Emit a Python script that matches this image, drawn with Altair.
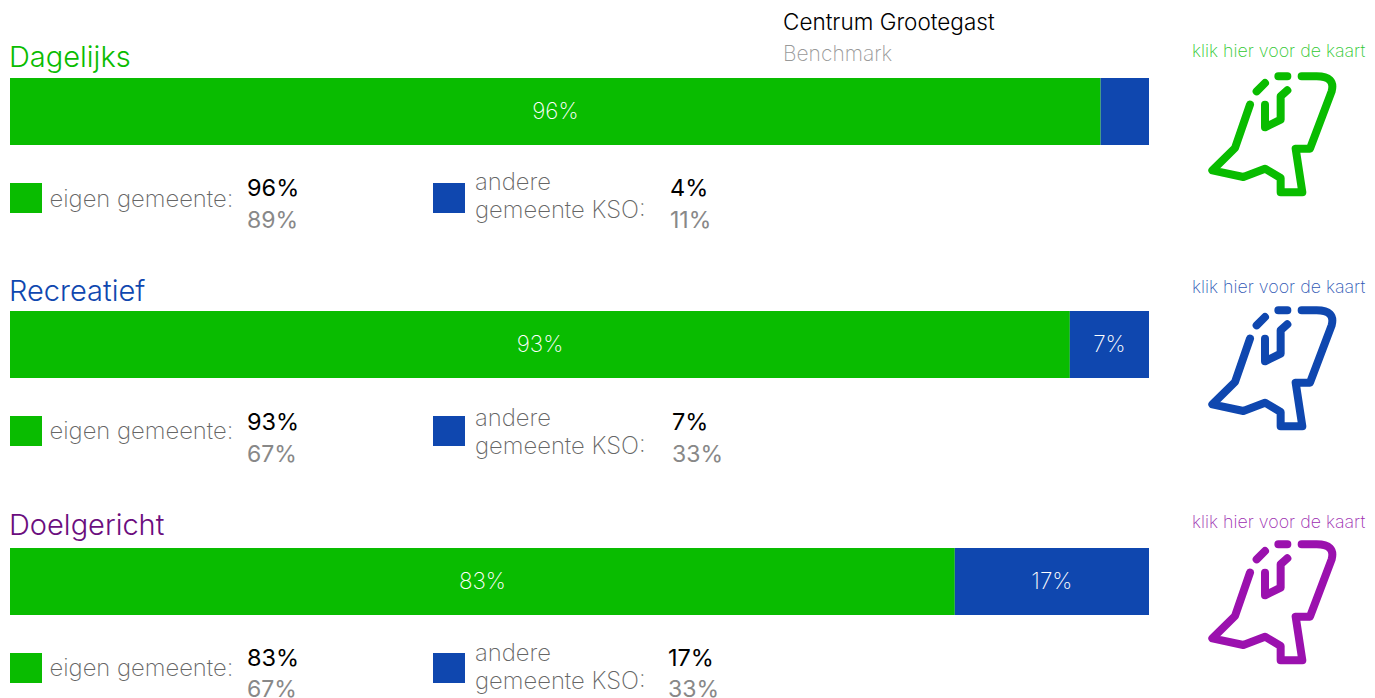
import altair as alt
import pandas as pd

groups = ["Dagelijks", "Recreatief", "Doelgericht"]
own = [95.75, 93.05, 82.95]
other = [4.25, 6.95, 17.05]
own_labels = ["96%", "93%", "83%"]
other_labels = ["", "7%", "17%"]
own_main = ["96%", "93%", "83%"]
own_bench = ["89%", "67%", "67%"]
other_main = ["4%", "7%", "17%"]
other_bench = ["11%", "33%", "33%"]

GREEN = "#09BC00"
BLUE = "#0F47AF"
title_colors = ["#09BC00", "#0F47AF", "#6B0D7E"]
icon_colors = ["#09BC00", "#0F47AF", "#9B11AE"]
link_colors = ["#30C830", "#3058B5", "#9C2CB0"]
FONT = "Inter"
GREY = "#666666"

OX, OY = 8, 8
bar_tops = [78, 311, 548]
title_base = [67, 301, 535]
link_base = [57, 293, 528]
icon_cy = [133, 367, 601]
swatch_tops = [183, 416, 653]
eigen_base = [207, 439, 676]
andere_base = [190, 426, 661]
kso_base = [218, 454, 689]
main_base = [196, 430, 666]
bench_base = [228, 462, 697]
other_x = [670, 672, 668]


def txt(s, x, y, color, size, weight=200, align="left", font=FONT):
    return alt.Chart(pd.DataFrame({"t": [s]})).mark_text(
        font=font, fontSize=size, fontWeight=weight, color=color, align=align,
        baseline="alphabetic",
    ).encode(x=alt.value(x - OX), y=alt.value(y - OY), text="t:N")


def swatch(x, y, color):
    return alt.Chart(pd.DataFrame({"a": [0]})).mark_rect(color=color).encode(
        x=alt.value(x - OX), x2=alt.value(x + 32 - OX),
        y=alt.value(y - OY), y2=alt.value(y + 30 - OY),
    )


def P(points):
    return "M" + " L".join(f"{(px - 300) / 150:.3f} {(py - 400) / 150:.3f}" for px, py in points)


ICON = " ".join([
    P([(240, 315), (195, 445), (127, 512), (220, 532), (285, 507), (332, 535), (332, 578),
       (397, 578), (377, 447), (420, 447), (485, 275)]) +
    " Q{:.3f} {:.3f} {:.3f} {:.3f} L{:.3f} {:.3f}".format(
        (497 - 300) / 150, (230 - 400) / 150, (440 - 300) / 150, (230 - 400) / 150,
        (395 - 300) / 150, (230 - 400) / 150),
    P([(325, 230), (352, 230)]),
    P([(260, 275), (285, 250)]),
    P([(285, 315), (285, 383), (332, 360), (332, 290), (352, 272)]),
])


def icon(cy, color):
    return alt.Chart(pd.DataFrame({"a": [0]})).mark_point(
        shape=ICON, size=10000, filled=False, stroke=color, strokeWidth=8,
        strokeCap="round", strokeJoin="round", opacity=1,
    ).encode(x=alt.value(1270 - OX), y=alt.value(cy - OY))


x_scale = alt.Scale(domain=[0, 100], range=[10 - OX, 1149 - OX])
color_scale = alt.Scale(domain=["eigen", "andere"], range=[GREEN, BLUE])

layers = []
for i, top in enumerate(bar_tops):
    a, b = own[i], other[i]
    df = pd.DataFrame({"start": [0, a], "end": [a, a + b], "part": ["eigen", "andere"]})
    layers.append(alt.Chart(df).mark_bar().encode(
        x=alt.X("start:Q", scale=x_scale, axis=None),
        x2="end:Q",
        y=alt.value(top - OY),
        y2=alt.value(top + 67 - OY),
        color=alt.Color("part:N", scale=color_scale, legend=None),
    ))
    rows = [{"m": a / 2, "t": own_labels[i]}]
    if other_labels[i]:
        rows.append({"m": a + b / 2, "t": other_labels[i]})
    layers.append(alt.Chart(pd.DataFrame(rows)).mark_text(
        font=FONT, fontSize=22.5, fontWeight=200, color="white", baseline="alphabetic",
    ).encode(
        x=alt.X("m:Q", scale=x_scale, axis=None),
        y=alt.value(top + 41 - OY),
        text="t:N",
    ))

layers.append(txt("Centrum Grootegast", 783, 30, "#000000", 22.5, 300))
layers.append(txt("Benchmark", 783, 61, "#999999", 21, 200))

for i, top in enumerate(bar_tops):
    layers.append(txt(groups[i], 9, title_base[i], title_colors[i], 29, 300))
    layers.append(txt("klik hier voor de kaart", 1192, link_base[i], link_colors[i], 17.8, 200))
    layers.append(icon(icon_cy[i], icon_colors[i]))
    layers.append(swatch(10, swatch_tops[i], GREEN))
    layers.append(swatch(433, swatch_tops[i], BLUE))
    layers.append(txt("eigen gemeente:", 49.5, eigen_base[i], GREY, 23.8))
    layers.append(txt("andere", 475, andere_base[i], GREY, 23.8))
    layers.append(txt("gemeente KSO:", 475, kso_base[i], GREY, 23.8))
    layers.append(txt(own_main[i], 247, main_base[i], "#000000", 23.5, 400))
    layers.append(txt(own_bench[i], 247, bench_base[i], "#888888", 23, 400))
    layers.append(txt(other_main[i], other_x[i], main_base[i], "#000000", 23.5, 400))
    layers.append(txt(other_bench[i], other_x[i], bench_base[i], "#888888", 23, 400))

chart = alt.layer(*layers).properties(
    width=1359, height=690, padding=0, autosize=alt.AutoSizeParams(type="none"),
    background="white",
).configure_view(stroke=None)

chart.save("out.html", embed_options={"renderer": "svg", "actions": False})
